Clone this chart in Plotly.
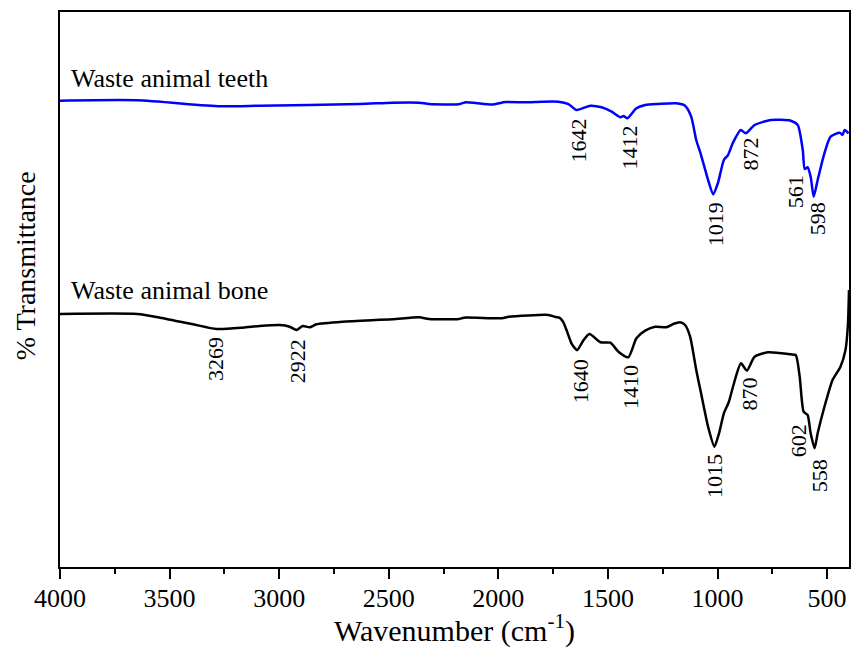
import plotly.graph_objects as go

# FTIR spectra: wavenumber (cm^-1) vs. offset transmittance (arbitrary %T scale)
teeth_wn = [4000, 3648, 3270, 3089, 2634, 2484, 2361, 2316, 2180, 2148, 2102, 2029,
            1966, 1875, 1802, 1726, 1680, 1643, 1580, 1529, 1483, 1443, 1429, 1411,
            1370, 1330, 1270, 1188, 1148, 1120, 1097, 1075, 1043, 1020, 998, 971,
            952, 930, 894, 871, 831, 756, 666, 634, 611, 602, 589, 575, 561, 543,
            512, 484, 443, 430, 420, 402]
teeth_t = [84.02, 84.09, 83.01, 83.12, 83.42, 83.66, 83.66, 83.42, 83.37, 83.75, 83.60, 83.33,
           83.78, 83.73, 83.84, 83.84, 83.42, 82.34, 83.12, 82.83, 82.04, 81.03, 81.26, 80.85,
           82.65, 83.24, 83.42, 83.55, 83.12, 81.14, 76.94, 74.23, 69.73, 67.15, 69.19, 73.33,
           74.23, 76.40, 78.74, 78.14, 79.64, 80.54, 80.41, 79.64, 75.14, 71.71, 72.02, 70.32,
           66.72, 69.73, 74.59, 77.53, 78.25, 77.84, 78.74, 78.14]

bone_wn = [4000, 3648, 3543, 3393, 3286, 3166, 3089, 2998, 2952, 2921, 2893, 2861,
           2830, 2711, 2484, 2361, 2316, 2180, 2157, 1984, 1952, 1771, 1739, 1720,
           1705, 1688, 1665, 1645, 1639, 1611, 1584, 1534, 1489, 1452, 1407, 1370, 1330,
           1284, 1234, 1202, 1171, 1148, 1125, 1097, 1075, 1043, 1014, 993, 971,
           948, 925, 893, 866, 831, 770, 666, 643, 625, 607, 589, 575, 557, 543,
           512, 475, 439, 416, 405, 400]
bone_t = [45.59, 45.59, 44.92, 43.73, 42.88, 43.12, 43.42, 43.60, 43.30, 42.70, 43.42, 43.19,
          43.73, 44.20, 44.63, 44.99, 44.68, 44.68, 44.92, 44.81, 45.10, 45.41, 45.05, 44.90,
          44.20, 42.60, 40.20, 39.20, 39.10, 40.90, 41.98, 40.49, 40.41, 38.79, 37.78, 41.21, 42.58,
          43.30, 43.19, 43.78, 44.09, 43.60, 41.50, 35.50, 31.30, 25.28, 21.68, 24.09, 27.69,
          29.78, 33.10, 36.70, 35.37, 37.89, 38.68, 38.32, 38.20, 34.29, 27.98, 27.39, 24.09,
          21.39, 24.09, 28.88, 33.69, 36.09, 39.10, 43.60, 49.91]

# Band labels: text, x position (cm^-1) and top edge of the label (%T)
teeth_band_text = ["1642", "1412", "1019", "872", "561", "598"]
teeth_band_x = [1634, 1402, 1011, 848, 643, 543]
teeth_band_top = [81.1, 80.0, 66.1, 77.8, 71.0, 66.1]

bone_band_text = ["3269", "2922", "1640", "1410", "1015", "870", "602", "558"]
bone_band_x = [3293, 2916, 1625, 1398, 1016, 852, 630, 534]
bone_band_top = [41.8, 41.3, 37.7, 36.8, 20.7, 34.6, 26.1, 19.8]

series_names = ["Waste animal teeth", "Waste animal bone"]
series_label_y = [88.1, 49.9]
series_colors = ["#0000ff", "#000000"]

x_ticks = [4000, 3500, 3000, 2500, 2000, 1500, 1000, 500]

FONT = "Liberation Serif, Times New Roman, serif"

fig = go.Figure()
for wn, t, name, col in [(teeth_wn, teeth_t, series_names[0], series_colors[0]),
                         (bone_wn, bone_t, series_names[1], series_colors[1])]:
    fig.add_trace(go.Scatter(
        x=wn, y=t, mode="lines", name=name,
        line=dict(color=col, width=2.5, shape="spline", smoothing=0.6),
        showlegend=False,
    ))

annotations = []
for name, y in zip(series_names, series_label_y):
    annotations.append(dict(
        x=3957, y=y, xref="x", yref="y", text=name, showarrow=False,
        xanchor="left", yanchor="middle",
        font=dict(family=FONT, size=26, color="black"),
    ))
for texts, xs, tops in [(teeth_band_text, teeth_band_x, teeth_band_top),
                        (bone_band_text, bone_band_x, bone_band_top)]:
    for txt, x, top in zip(texts, xs, tops):
        annotations.append(dict(
            x=x, y=top, xref="x", yref="y", text=txt, showarrow=False,
            textangle=-90, xanchor="center", yanchor="top",
            font=dict(family=FONT, size=22, color="black"),
        ))

# vertical axis title
annotations.append(dict(
    x=-0.0442, y=0.542, xref="paper", yref="paper", text="% Transmittance",
    showarrow=False, textangle=-90, xanchor="center", yanchor="middle",
    font=dict(family=FONT, size=28, color="black"),
))

fig.update_layout(
    width=852, height=648,
    margin=dict(l=60, r=1, t=12, b=81),
    paper_bgcolor="white", plot_bgcolor="white",
    font=dict(family=FONT, color="black"),
    annotations=annotations,
    xaxis=dict(
        range=[4000, 400], tickvals=x_ticks,
        ticks="outside", ticklen=10, tickwidth=2, tickcolor="black",
        ticklabelstandoff=-3,
        minor=dict(dtick=250, tick0=0, ticks="outside", ticklen=5, tickwidth=2, tickcolor="black"),
        showline=True, mirror=True, linewidth=2, linecolor="black",
        showgrid=False, zeroline=False,
        tickfont=dict(family=FONT, size=26, color="black"),
        title=dict(text="Wavenumber (cm<sup>-1</sup>)", standoff=9,
                   font=dict(family=FONT, size=30, color="black")),
    ),
    yaxis=dict(
        range=[0, 100], showticklabels=False, ticks="",
        showline=True, mirror=True, linewidth=2, linecolor="black",
        showgrid=False, zeroline=False,
    ),
)

fig.write_html("out.html")
